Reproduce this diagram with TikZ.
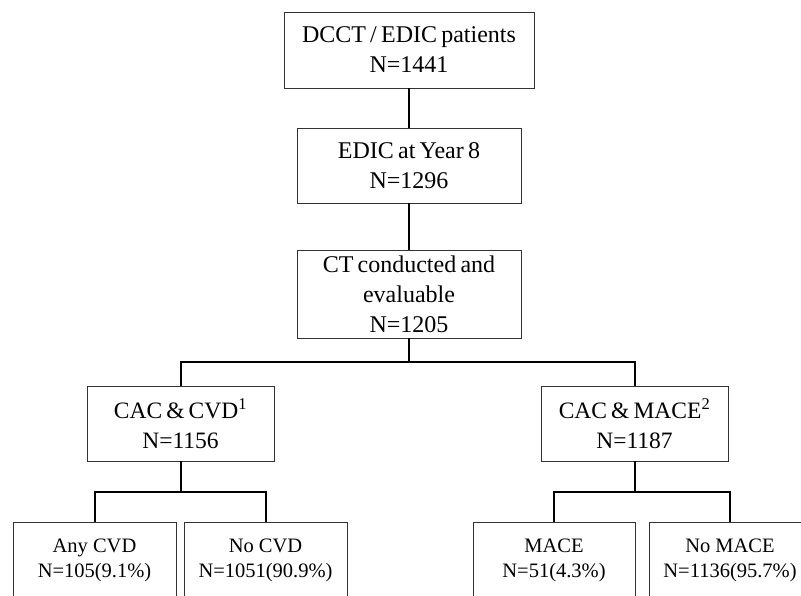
\documentclass[tikz,border=0pt]{standalone}
\usepackage{fontspec}
\setmainfont{Liberation Serif}[WordSpace=0.7]
\newfontfamily\leaffont{Liberation Serif}
\tikzset{
	box/.style={draw=black!80, line width=0.9pt, align=center, inner sep=0pt, font=\fontsize{24}{30}\selectfont},
	leaf/.style={box, minimum width=163pt, minimum height=76pt, font=\leaffont\fontsize{20.5}{25}\selectfont},
	conn/.style={line width=2pt}
}
\begin{document}
\begin{tikzpicture}[x=1pt, y=-1pt]
	\useasboundingbox (0, 0) rectangle (801, 595);
	\clip (0, 0) rectangle (801, 595);
	\fill[white] (0, 0) rectangle (801, 595);
	\node[box, minimum width=250pt, minimum height=76pt] at (409, 50) (dcct) {DCCT / EDIC patients\\N=1441};
	\node[box, minimum width=224pt, minimum height=75pt] at (409, 165.5) (edic) {EDIC at Year 8\\N=1296};
	\draw[conn] (dcct) -- (edic);
	\node[box, minimum width=224pt, minimum height=88pt] at (409, 294) (ct) {CT conducted and\\evaluable\\N=1205};
	\draw[conn] (edic) -- (ct);
	\node[box, minimum width=187pt, minimum height=75pt, font=\fontsize{23.5}{30}\selectfont] at (180.5, 423.5) (cvd) {CAC \& CVD\textsuperscript{1}\\N=1156};
	\node[box, minimum width=187pt, minimum height=75pt, font=\fontsize{23.5}{30}\selectfont] at (634.5, 423.5) (mace) {CAC \& MACE\textsuperscript{2}\\N=1187};
	\coordinate (split) at (409, 362);
	\draw[conn] (ct.south) -- (split);
	\draw[conn] (cvd.north) -- (cvd.north |- split) -- (mace.north |- split) -- (mace.north);
	\node[leaf] at (94.5, 560) (anycvd) {Any CVD\\N=105(9.1\%)};
	\node[leaf] at (265.5, 560) (nocvd) {No CVD\\N=1051(90.9\%)};
	\node[leaf, minimum width=162pt] at (554, 560) (withmace) {MACE\\N=51(4.3\%)};
	\node[leaf, minimum width=162pt] at (730, 560) (nomace) {No MACE\\N=1136(95.7\%)};
	\coordinate (splitcvd) at (180.5, 492);
	\coordinate (splitmace) at (634.5, 492);
	\draw[conn] (cvd.south) -- (splitcvd);
	\draw[conn] (anycvd.north) -- (anycvd.north |- splitcvd) -- (nocvd.north |- splitcvd) -- (nocvd.north);
	\draw[conn] (mace.south) -- (splitmace);
	\draw[conn] (withmace.north) -- (withmace.north |- splitmace) -- (nomace.north |- splitmace) -- (nomace.north);
\end{tikzpicture}
\end{document}
